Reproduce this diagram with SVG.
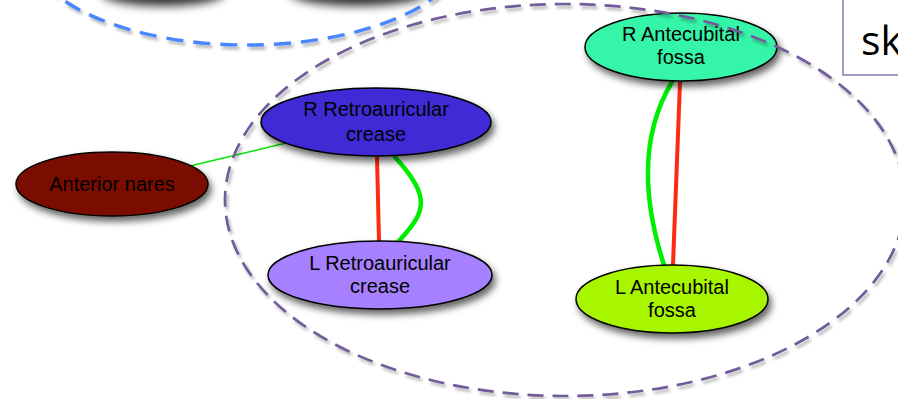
<svg xmlns="http://www.w3.org/2000/svg" width="898" height="399" viewBox="0 0 898 399">
  <defs>
    <filter id="shadow" x="-20%" y="-30%" width="150%" height="170%">
      <feDropShadow dx="3" dy="5" stdDeviation="3.5" flood-color="#000" flood-opacity="0.6"/>
    </filter>
    <filter id="lineShadow" x="-10%" y="-10%" width="120%" height="130%">
      <feDropShadow dx="2" dy="3" stdDeviation="1.5" flood-color="#000" flood-opacity="0.3"/>
    </filter>
    <filter id="soft" x="-50%" y="-100%" width="200%" height="300%">
      <feGaussianBlur stdDeviation="5"/>
    </filter>
  </defs>
  <style>
    .node ellipse { stroke: #000; stroke-width: 1.5; filter: url(#shadow); }
    .node text { font-family: "Liberation Sans", Arial, sans-serif; font-size: 20px; fill: #000; text-anchor: middle; }
    .group { fill: none; stroke-width: 2.7; stroke-dasharray: 16 9; filter: url(#lineShadow); }
    .group.blue { stroke: #4a86ff; stroke-width: 3.4; stroke-dasharray: 17 10; }
    .group.purple { stroke: #725c9a; }
    .weak { stroke: #00e600; stroke-width: 1.5; fill: none; }
    .red { stroke: #ff2a14; stroke-width: 4; fill: none; }
    .green { stroke: #00ee00; stroke-width: 4.5; fill: none; stroke-linecap: round; }
  </style>

  <rect width="898" height="399" fill="#fff"/>

  <!-- shadows of the nodes above the top edge -->
  <ellipse cx="163" cy="-7" rx="62" ry="13" fill="#000" opacity="0.8" filter="url(#soft)"/>
  <ellipse cx="358" cy="-7" rx="68" ry="13" fill="#000" opacity="0.8" filter="url(#soft)"/>

  <!-- upper cluster outline -->
  <ellipse class="group blue" cx="247" cy="-55" rx="220" ry="100"/>

  <!-- connectors -->
  <g id="connectors">
    <line class="weak" x1="190" y1="166" x2="286" y2="143"/>
    <line class="red" x1="377" y1="157" x2="379" y2="241"/>
    <path class="green" d="M395,157 C432,198 426,212 398,242"/>
    <line class="red" x1="680" y1="82" x2="673" y2="265"/>
    <path class="green" d="M672,82 C640,135 643,200 664,265"/>
  </g>

  <g id="anterior-nares" class="node">
    <ellipse cx="112" cy="184" rx="96" ry="32" fill="#7a0e00"/>
    <text x="112" y="191">Anterior nares</text>
  </g>

  <g id="r-retroauricular" class="node">
    <ellipse cx="376" cy="122" rx="115" ry="34" fill="#3f2ad6"/>
    <text x="376" y="116">R Retroauricular</text>
    <text x="376" y="141">crease</text>
  </g>

  <g id="l-retroauricular" class="node">
    <ellipse cx="380" cy="275" rx="112" ry="34" fill="#a680ff"/>
    <text x="380" y="270">L Retroauricular</text>
    <text x="380" y="293">crease</text>
  </g>

  <g id="r-antecubital" class="node">
    <ellipse cx="681" cy="47" rx="96" ry="34" fill="#34f5a8"/>
    <text x="681" y="41">R Antecubital</text>
    <text x="681" y="64">fossa</text>
  </g>

  <g id="l-antecubital" class="node">
    <ellipse cx="672" cy="299" rx="96" ry="34" fill="#a8f500"/>
    <text x="672" y="294">L Antecubital</text>
    <text x="672" y="317">fossa</text>
  </g>

  <!-- lower cluster outline -->
  <ellipse class="group purple" cx="565" cy="200" rx="340" ry="196"/>

  <!-- label box at the top right -->
  <g id="label-box">
    <rect x="843" y="-3" width="62" height="78" fill="#fff" stroke="#8a78aa" stroke-width="1.5"/>
    <text x="861" y="55" font-family="'Open Sans', 'Liberation Sans', sans-serif" font-size="41" fill="#000">sk</text>
  </g>
</svg>
